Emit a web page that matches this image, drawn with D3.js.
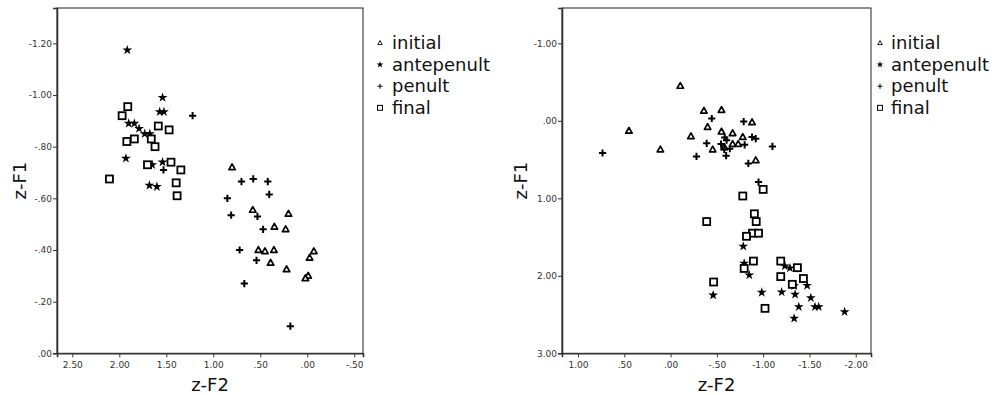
<!DOCTYPE html>
<html>
<head>
<meta charset="utf-8">
<script src="https://cdn.jsdelivr.net/npm/d3@7"></script>
<style>
  body { margin: 0; background: #fff; }
  svg { display: block; }
  text { font-family: "DejaVu Sans", Verdana, sans-serif; }
</style>
</head>
<body>
<svg width="992" height="395"></svg>
<script>
"use strict";

// legend categories
const categories = ["initial", "antepenult", "penult", "final"];

// left panel: [z-F2, z-F1]
const leftInitial = [[0.80,-0.72],[0.58,-0.555],[0.20,-0.54],[0.35,-0.49],[0.23,-0.48],[0.52,-0.40],[0.45,-0.395],
  [0.355,-0.40],[0.39,-0.35],[0.22,-0.325],[-0.07,-0.395],[-0.025,-0.37],[-0.01,-0.30],[0.02,-0.29]];
const leftAntepenult = [[1.915,-1.174],[1.54,-0.99],[1.57,-0.935],[1.525,-0.935],[1.90,-0.89],[1.84,-0.89],[1.79,-0.87],
  [1.73,-0.85],[1.675,-0.85],[1.93,-0.755],[1.65,-0.73],[1.54,-0.74],[1.68,-0.65],[1.60,-0.645]];
const leftPenult = [[1.22,-0.92],[1.53,-0.71],[0.70,-0.665],[0.575,-0.675],[0.42,-0.665],[0.405,-0.615],[0.85,-0.60],
  [0.81,-0.535],[0.53,-0.53],[0.47,-0.48],[0.72,-0.40],[0.54,-0.36],[0.67,-0.27],[0.18,-0.105]];
const leftFinal = [[1.91,-0.955],[1.97,-0.92],[1.585,-0.88],[1.47,-0.865],[1.92,-0.82],[1.84,-0.83],[1.66,-0.83],
  [1.62,-0.80],[1.70,-0.73],[1.45,-0.74],[1.345,-0.71],[2.105,-0.675],[1.395,-0.66],[1.385,-0.61]];

// right panel: [z-F2, z-F1]
const rightInitial = [[-0.105,-0.45],[-0.36,-0.13],[-0.55,-0.14],[-0.88,0.02],[0.45,0.13],[-0.40,0.08],[-0.22,0.20],
  [-0.55,0.14],[-0.67,0.16],[-0.78,0.21],[0.11,0.37],[-0.455,0.37],[-0.92,0.51],[-0.67,0.30],[-0.73,0.30],[-0.58,0.34]];
const rightAntepenult = [[-0.785,1.62],[-0.795,1.84],[-0.85,1.99],[-0.46,2.25],[-0.985,2.215],[-1.20,2.21],[-1.235,1.875],
  [-1.29,1.90],[-1.335,2.13],[-1.345,2.24],[-1.475,2.125],[-1.515,2.285],[-1.385,2.40],[-1.56,2.40],[-1.60,2.40],
  [-1.335,2.55],[-1.88,2.465]];
const rightPenult = [[0.735,0.415],[-0.445,-0.03],[-0.79,0.01],[-0.39,0.29],[-0.28,0.46],[-0.545,0.30],[-0.585,0.215],
  [-0.605,0.25],[-0.58,0.37],[-0.60,0.45],[-0.64,0.36],[-0.80,0.31],[-0.88,0.21],[-0.92,0.23],[-1.10,0.33],
  [-0.84,0.55],[-0.95,0.79]];
const rightFinal = [[-0.78,0.97],[-1.00,0.885],[-0.39,1.30],[-0.905,1.20],[-0.925,1.30],[-0.885,1.45],[-0.95,1.45],
  [-0.82,1.49],[-0.895,1.81],[-0.795,1.905],[-1.19,1.81],[-1.37,1.895],[-1.19,2.01],[-1.315,2.11],[-1.435,2.035],
  [-0.465,2.08],[-1.02,2.42]];

// tick values
const leftXTicks = [2.5, 2, 1.5, 1, 0.5, 0, -0.5];
const leftYTicks = [0, -0.2, -0.4, -0.6, -0.8, -1.0, -1.2];
const rightXTicks = [1, 0.5, 0, -0.5, -1, -1.5, -2];
const rightYTicks = [-1, 0, 1, 2, 3];

// SPSS style labels: ".50", "-.50", "1.00"
function fmt(v) {
  const s = Math.abs(v).toFixed(2).replace(/^0\./, ".");
  return (v < -1e-9 ? "-" : "") + s;
}

// marker shapes
function drawMarker(g, type, k) {
  if (type === "initial") {
    g.append("path")
      .attr("d", `M0,${-3.4*k}L${3.2*k},${2.3*k}L${-3.2*k},${2.3*k}Z`)
      .attr("fill", "#fff").attr("stroke", "#000").attr("stroke-width", k < 1 ? 0.9 : 1.7)
      .attr("stroke-linejoin", "round");
  } else if (type === "antepenult") {
    g.append("path")
      .attr("d", d3.symbol(d3.symbolStar, 30 * k * k)())
      .attr("fill", "#000");
  } else if (type === "penult") {
    const r = 3.6 * k;
    g.append("path")
      .attr("d", `M${-r},0H${r}M0,${-r}V${r}`)
      .attr("stroke", "#000").attr("stroke-width", k < 1 ? 1 : 2);
  } else {
    const s = 7 * k;
    g.append("rect")
      .attr("x", -s / 2).attr("y", -s / 2).attr("width", s).attr("height", s)
      .attr("fill", "#fff").attr("stroke", "#000").attr("stroke-width", k < 1 ? 1 : 1.8);
  }
}

const svg = d3.select("svg");

function drawPanel(cfg) {
  const x = d3.scaleLinear().domain(cfg.xDomain).range([cfg.left, cfg.right]);
  const y = d3.scaleLinear().domain(cfg.yDomain).range([cfg.bottom, cfg.top]);
  const g = svg.append("g");

  // frame
  g.append("rect")
    .attr("x", cfg.left).attr("y", cfg.top)
    .attr("width", cfg.right - cfg.left).attr("height", cfg.bottom - cfg.top)
    .attr("fill", "none").attr("stroke", "#222").attr("stroke-width", 1);

  const xAxis = g.append("g")
    .attr("transform", `translate(0,${cfg.bottom})`)
    .call(d3.axisBottom(x).tickValues(cfg.xTicks).tickFormat(fmt).tickSize(4).tickPadding(4));
  const yAxis = g.append("g")
    .attr("transform", `translate(${cfg.left},0)`)
    .call(d3.axisLeft(y).tickValues(cfg.yTicks).tickFormat(fmt).tickSize(4).tickPadding(1));
  [xAxis, yAxis].forEach(a => {
    a.select(".domain").attr("stroke", "#333").attr("stroke-width", 1.6);
    a.selectAll(".tick line").attr("stroke", "#333");
    a.selectAll(".tick text").attr("fill", "#333").style("font-size", "9px")
      .style("font-family", "'DejaVu Sans', sans-serif");
  });

  // axis titles
  g.append("text")
    .attr("x", (cfg.left + cfg.right) / 2).attr("y", 391)
    .attr("text-anchor", "middle").style("font-size", "18px").attr("fill", "#111")
    .text("z-F2");
  g.append("text")
    .attr("transform", `translate(${cfg.left - cfg.yTitleGap},${(cfg.top + cfg.bottom) / 2}) rotate(-90)`)
    .attr("text-anchor", "middle").style("font-size", "18px").attr("fill", "#111")
    .text("z-F1");

  // points
  cfg.series.forEach((pts, i) => {
    g.append("g").selectAll("g").data(pts).join("g")
      .attr("transform", d => `translate(${x(d[0])},${y(d[1])})`)
      .each(function () { drawMarker(d3.select(this), categories[i], 1); });
  });

  // legend
  const leg = g.append("g").selectAll("g").data(categories).join("g")
    .attr("transform", (d, i) => `translate(${cfg.legendX},${43 + i * 21.6})`);
  leg.each(function (d) { drawMarker(d3.select(this), d, 0.7); });
  leg.append("text")
    .attr("x", cfg.legendText).attr("y", 6)
    .style("font-size", "18px").attr("fill", "#111")
    .text(d => d);
}

drawPanel({
  left: 57, right: 363, top: 8, bottom: 353.3,
  xDomain: [2.663, -0.593], yDomain: [0, -1.337],
  xTicks: leftXTicks, yTicks: leftYTicks,
  series: [leftInitial, leftAntepenult, leftPenult, leftFinal],
  legendX: 380, legendText: 12, yTitleGap: 31
});

drawPanel({
  left: 562, right: 871, top: 8, bottom: 353.3,
  xDomain: [1.173, -2.165], yDomain: [3, -1.456],
  xTicks: rightXTicks, yTicks: rightYTicks,
  series: [rightInitial, rightAntepenult, rightPenult, rightFinal],
  legendX: 880, legendText: 11, yTitleGap: 35
});
</script>
</body>
</html>
